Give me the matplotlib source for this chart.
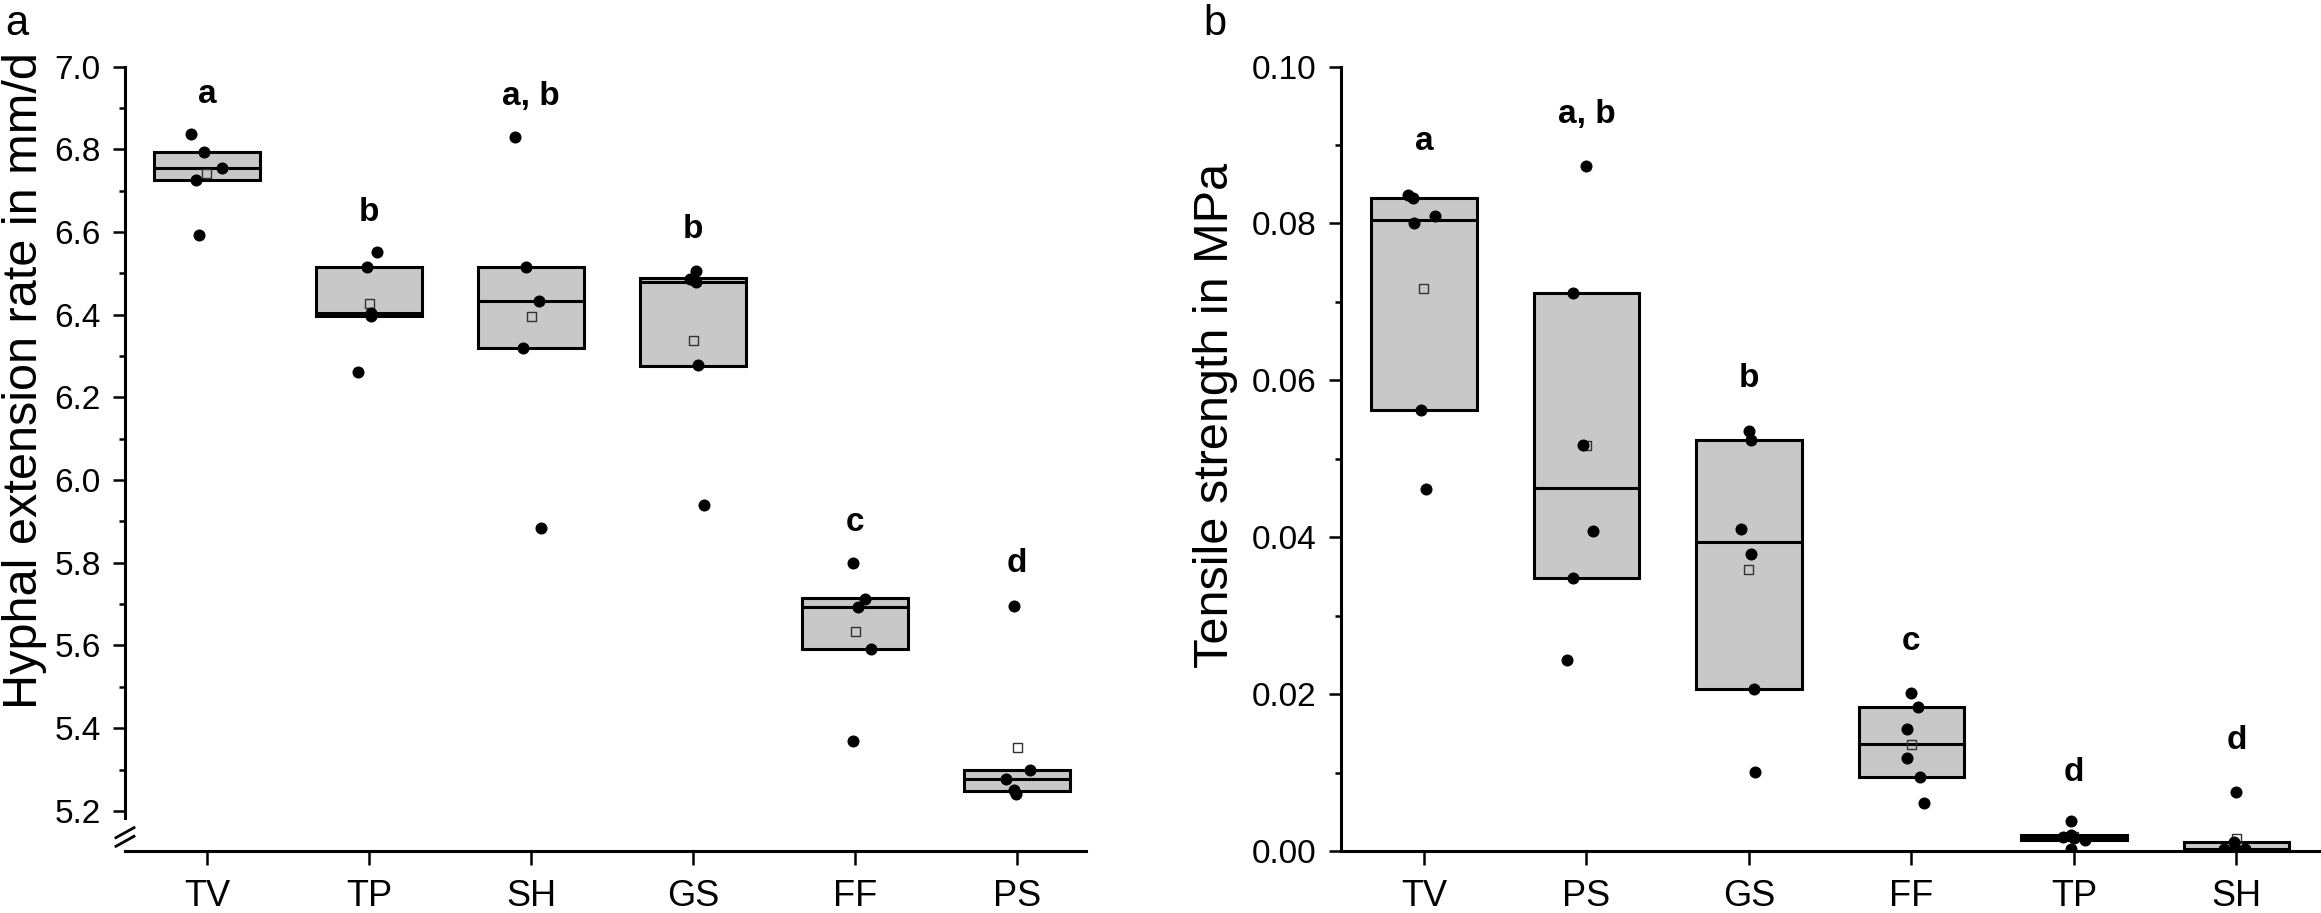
import numpy as np
import matplotlib
matplotlib.use("Agg")
import matplotlib.pyplot as plt
from matplotlib import font_manager
from matplotlib.ticker import MultipleLocator

# Panel a: hyphal extension rate (mm/d)
groups_a = ["TV", "TP", "SH", "GS", "FF", "PS"]
points_a = [
    [6.836, 6.794, 6.754, 6.726, 6.593],
    [6.552, 6.515, 6.404, 6.398, 6.261],
    [6.829, 6.515, 6.434, 6.319, 5.883],
    [6.505, 6.487, 6.478, 6.278, 5.940],
    [5.800, 5.712, 5.693, 5.591, 5.370],
    [5.696, 5.300, 5.277, 5.250, 5.240],
]
jitter_a = [
    [-0.10, -0.02, 0.09, -0.07, -0.05],
    [0.05, -0.01, 0.01, 0.01, -0.07],
    [-0.10, -0.03, 0.05, -0.05, 0.06],
    [0.02, -0.02, 0.02, 0.03, 0.07],
    [-0.01, 0.06, 0.02, 0.10, -0.01],
    [-0.02, 0.08, -0.07, -0.02, -0.01],
]
q1_a = [6.726, 6.398, 6.319, 6.277, 5.591, 5.249]
med_a = [6.755, 6.404, 6.434, 6.479, 5.693, 5.277]
q3_a = [6.794, 6.515, 6.515, 6.489, 5.715, 5.298]
letters_a = ["a", "b", "a, b", "b", "c", "d"]
letter_y_a = [6.911, 6.627, 6.907, 6.585, 5.878, 5.778]

# Panel b: tensile strength (MPa)
groups_b = ["TV", "PS", "GS", "FF", "TP", "SH"]
points_b = [
    [0.0836, 0.0833, 0.0810, 0.0800, 0.0562, 0.0462],
    [0.0873, 0.0711, 0.0518, 0.0408, 0.0348, 0.0243],
    [0.0536, 0.0524, 0.0410, 0.0378, 0.0207, 0.0101],
    [0.0201, 0.0184, 0.0155, 0.0118, 0.0094, 0.0061],
    [0.0038, 0.0021, 0.0018, 0.0016, 0.0014, 0.0003],
    [0.0075, 0.0012, 0.0003, 0.0003, 0.0001, 0.0000],
]
jitter_b = [
    [-0.10, -0.07, 0.07, -0.06, -0.02, 0.01],
    [0.00, -0.08, -0.02, 0.04, -0.08, -0.12],
    [0.00, 0.01, -0.05, 0.01, 0.03, 0.04],
    [0.00, 0.04, -0.03, -0.03, 0.05, 0.08],
    [-0.02, -0.02, -0.07, 0.00, 0.07, -0.02],
    [0.00, -0.015, -0.075, 0.05, -0.015, 0.02],
]
q1_b = [0.0562, 0.0348, 0.0207, 0.0094, 0.0014, 0.0000]
med_b = [0.0805, 0.0463, 0.0394, 0.0136, 0.0017, 0.0002]
q3_b = [0.0832, 0.0711, 0.0524, 0.0184, 0.0021, 0.0011]
letters_b = ["a", "a, b", "b", "c", "d", "d"]
letter_y_b = [0.0894, 0.0928, 0.0592, 0.0256, 0.0089, 0.0130]

# Arial-like font
installed = {f.name for f in font_manager.fontManager.ttflist}
font = "Liberation Sans" if "Liberation Sans" in installed else "DejaVu Sans"
plt.rcParams["font.family"] = font

W, H = 2321, 913
fig = plt.figure(figsize=(W / 100, H / 100), dpi=100)
bottom_px, top_px = 851, 66.6
ax_a = fig.add_axes([125 / W, 1 - bottom_px / H, 961 / W, (bottom_px - top_px) / H])
ax_b = fig.add_axes([1341 / W, 1 - bottom_px / H, 980 / W, (bottom_px - top_px) / H])

box_color = "#c8c8c8"


def draw_panel(ax, groups, points, jitter, q1, med, q3, letters, letter_y):
    x = np.arange(1, len(groups) + 1)
    q1 = np.array(q1)
    q3 = np.array(q3)
    ax.bar(x, q3 - q1, bottom=q1, width=0.65, color=box_color,
           edgecolor="black", linewidth=2.2, zorder=1)
    ax.hlines(med, x - 0.325, x + 0.325, color="black", linewidth=2.2, zorder=2)
    means = [np.mean(p) for p in points]
    ax.scatter(x, means, marker="s", s=42, facecolor="none",
               edgecolor="#333333", linewidth=1, zorder=3)
    for i, (p, j) in enumerate(zip(points, jitter)):
        ax.scatter(x[i] + np.array(j), p, s=75, color="black",
                   linewidth=0, zorder=4)
    for i, (t, ty) in enumerate(zip(letters, letter_y)):
        ax.text(x[i], ty, t, ha="center", va="baseline", fontsize=24,
                fontweight="bold")
    ax.set_xticks(x)
    ax.set_xticklabels(groups, fontsize=26)
    for s in ["top", "right"]:
        ax.spines[s].set_visible(False)
    for s in ["left", "bottom"]:
        ax.spines[s].set_linewidth(2.2)
    ax.tick_params(axis="x", length=10, width=1.8, pad=10)
    ax.tick_params(axis="y", which="major", length=8.5, width=1.8, pad=9,
                   labelsize=24)
    ax.tick_params(axis="y", which="minor", length=4.5, width=1.8)


# panel a
draw_panel(ax_a, groups_a, points_a, jitter_a, q1_a, med_a, q3_a,
           letters_a, letter_y_a)
ax_a.set_xlim(0.494, 6.425)
ax_a.set_ylim(5.103, 7.0)
yt_a = np.round(np.arange(5.2, 7.01, 0.2), 1)
ax_a.set_yticks(yt_a)
ax_a.set_yticklabels([f"{v:.1f}" for v in yt_a])
ax_a.yaxis.set_minor_locator(MultipleLocator(0.1))
ax_a.spines["left"].set_bounds(5.183, 7.0)
ax_a.set_ylabel("Hyphal extension rate in mm/d", fontsize=35)
ax_a.yaxis.set_label_coords(-0.081, 0.60)
# axis break marks
for off in (-0.0055, 0.0055):
    ax_a.plot([-0.0094, 0.0094], [0.0115 + off, 0.0243 + off], color="black",
              linewidth=2, transform=ax_a.transAxes, clip_on=False)

# panel b
draw_panel(ax_b, groups_b, points_b, jitter_b, q1_b, med_b, q3_b,
           letters_b, letter_y_b)
ax_b.set_xlim(0.49, 6.52)
ax_b.set_ylim(0.0, 0.10)
yt_b = np.round(np.arange(0.0, 0.101, 0.02), 2)
ax_b.set_yticks(yt_b)
ax_b.set_yticklabels([f"{v:.2f}" for v in yt_b])
ax_b.yaxis.set_minor_locator(MultipleLocator(0.01))
ax_b.set_ylabel("Tensile strength in MPa", fontsize=35)
ax_b.yaxis.set_label_coords(-0.105, 0.555)

fig.text(5 / W, 1 - 35 / H, "a", fontsize=30, va="baseline")
fig.text(1203 / W, 1 - 35 / H, "b", fontsize=30, va="baseline")

fig.savefig("out.png", dpi=100)
